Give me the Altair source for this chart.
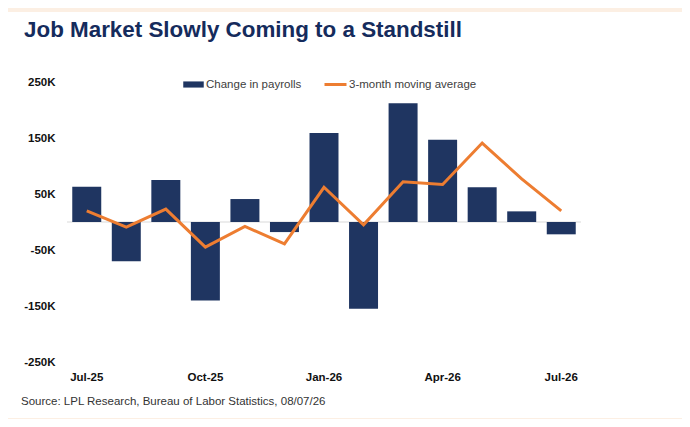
import altair as alt
import pandas as pd

# ---- data (values in thousands) ----
months = ["Jul-25", "Aug-25", "Sep-25", "Oct-25", "Nov-25", "Dec-25", "Jan-26",
          "Feb-26", "Mar-26", "Apr-26", "May-26", "Jun-26", "Jul-26"]
payrolls = [63, -70, 75, -140, 41, -18, 159, -155, 212, 147, 62, 19, -22]
moving_avg = [20, -9, 23, -45, -8, -39, 62, -5, 72, 67, 141, 77, 20]
x_tick_labels = ["Jul-25", "Oct-25", "Jan-26", "Apr-26", "Jul-26"]
y_ticks = [-250, -150, -50, 50, 150, 250]

title_text = "Job Market Slowly Coming to a Standstill"
source_text = "Source: LPL Research, Bureau of Labor Statistics, 08/07/26"
bar_name = "Change in payrolls"
line_name = "3-month moving average"

df = pd.DataFrame({
    "month": months,
    "payrolls": payrolls,
    "avg": moving_avg,
    "bar_series": [bar_name] * len(months),
    "line_series": [line_name] * len(months),
})

NAVY = "#1F3561"
ORANGE = "#ED7D31"
FONT = "Liberation Sans"

label_test = "indexof(" + str(x_tick_labels) + ", datum.label) >= 0 ? datum.label : ''"

x_enc = alt.X(
    "month:N", sort=months,
    scale=alt.Scale(paddingInner=0.267, paddingOuter=0.133),
    axis=alt.Axis(title=None, labelExpr=label_test, ticks=False, domain=False,
                  labelAngle=0, labelFont=FONT, labelFontSize=11.5,
                  labelFontWeight="bold", labelColor="#111111", labelPadding=9,
                  zindex=1),
)
y_scale = alt.Scale(domain=[-250, 250], nice=False, zero=False)
y_axis = alt.Axis(title=None, values=y_ticks, labelExpr="datum.value + 'K'",
                  ticks=False, domain=False, grid=False, labelFont=FONT,
                  labelFontSize=11.5, labelFontWeight="bold", labelColor="#111111",
                  labelPadding=12, zindex=1)

one = alt.Data(values=[{}])

panel = alt.Chart(one).mark_rect(color="white", clip=False).encode(
    x=alt.value(-59), x2=alt.value(615), y=alt.value(-70), y2=alt.value(336)
)

zero_rule = alt.Chart(one).mark_rule(color="#D9D9D9", strokeWidth=1).encode(
    y=alt.datum(0, scale=y_scale)
)

bars = alt.Chart(df).mark_bar().encode(
    x=x_enc,
    y=alt.Y("payrolls:Q", scale=y_scale, axis=y_axis),
    color=alt.Color("bar_series:N",
                    scale=alt.Scale(domain=[bar_name], range=[NAVY]),
                    legend=alt.Legend(title=None, orient="none", legendX=116, legendY=-8,
                                      symbolType="M-1,-0.3H1V0.3H-1Z", symbolSize=420,
                                      symbolStrokeWidth=0, labelFont=FONT,
                                      labelFontSize=11.5, labelColor="#404040",
                                      labelOffset=2, padding=0)),
)

line = alt.Chart(df).mark_line(strokeWidth=3).encode(
    x=x_enc,
    y=alt.Y("avg:Q", scale=y_scale, axis=y_axis),
    stroke=alt.Stroke("line_series:N",
                      scale=alt.Scale(domain=[line_name], range=[ORANGE]),
                      legend=alt.Legend(title=None, orient="none", legendX=256, legendY=-10,
                                        symbolType="stroke", symbolSize=484,
                                        symbolStrokeWidth=3, labelFont=FONT,
                                        labelFontSize=11.5, labelColor="#404040",
                                        labelOffset=1, padding=0)),
)

title = alt.Chart(one).mark_text(
    text=title_text, font=FONT, fontSize=22.4, fontWeight="bold", color="#152B5C",
    align="left", baseline="alphabetic", clip=False
).encode(x=alt.value(-43), y=alt.value(-45))

source = alt.Chart(one).mark_text(
    text=source_text, font=FONT, fontSize=11.5, color="#333333",
    align="left", baseline="alphabetic", clip=False
).encode(x=alt.value(-46), y=alt.value(323))

chart = alt.layer(panel, zero_rule, bars, line, title, source).resolve_scale(
    color="independent"
).properties(
    width=514, height=280,
    autosize=alt.AutoSizeParams(type="none"),
    padding={"left": 59, "top": 74, "right": 101, "bottom": 57},
    background="#FCEFE3",
).configure_view(stroke=None)

chart.save("out.html", embed_options={"renderer": "svg", "actions": False})
